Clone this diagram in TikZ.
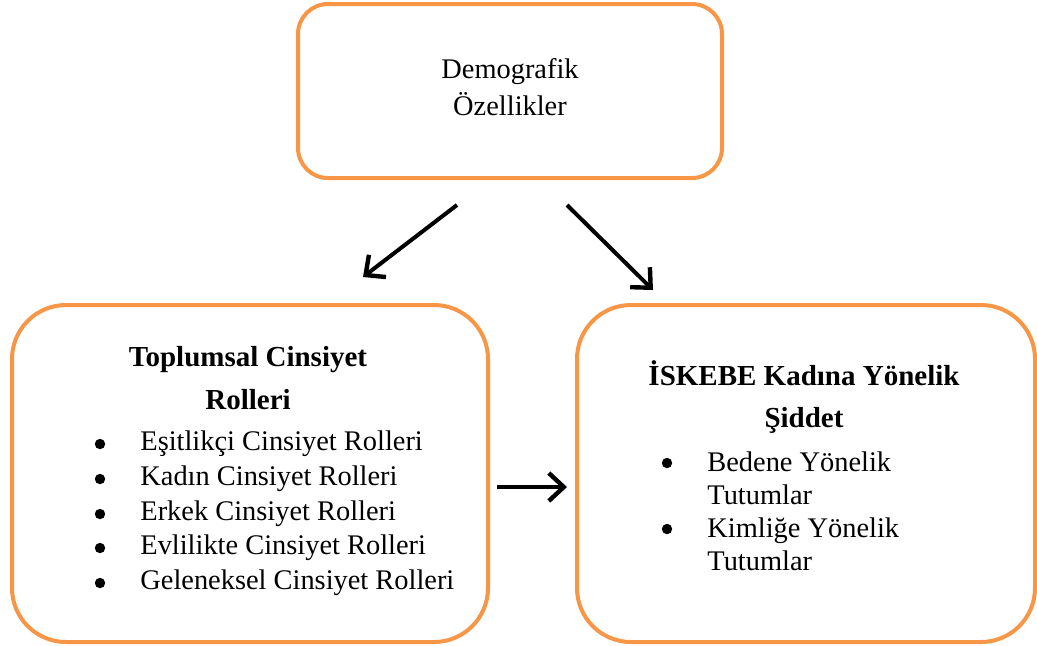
\documentclass[tikz,border=0pt]{standalone}
\usepackage{fontspec}
\setmainfont{Liberation Serif}
\usetikzlibrary{arrows.meta}
\definecolor{turuncu}{RGB}{247,150,70}
\tikzset{
  kutu/.style={draw=turuncu, line width=2pt, rounded corners=#1, inner sep=0pt},
  ok/.style={-{Straight Barb[length=7.5pt, width=14pt, line width=2.2pt]}, line width=2pt},
  yazi/.style={font=\fontsize{14.2}{18.5}\selectfont, inner sep=0pt},
  baslik/.style={font=\bfseries\fontsize{14.5}{21.5}\selectfont, inner sep=0pt, align=center},
  madde/.style={yazi, anchor=base west},
  nokta/.style={circle, fill=black, minimum size=5.2pt, inner sep=0pt}
}
\begin{document}
\begin{tikzpicture}[x=0.5pt, y=-0.5pt]
  \def\px{0.5pt}
  \useasboundingbox (0, 0) rectangle (1037, 645);
  % kutular
  \node [kutu=15pt, minimum width=424*\px, minimum height=174*\px] (demo) at (510, 91) {};
  \node [kutu=27pt, minimum width=476*\px, minimum height=337*\px] (roller) at (250, 473.5) {};
  \node [kutu=27pt, minimum width=458*\px, minimum height=337*\px] (siddet) at (806, 473.5) {};
  \node [yazi, align=center] (demoyazi) at (510, 87) {Demografik\\Özellikler};
  \node [baslik] (rolbaslik) at (248, 378) {Toplumsal Cinsiyet\\Rolleri};
  \node [baslik, font=\bfseries\fontsize{14.5}{21}\selectfont] (sidbaslik) at (804, 397) {İSKEBE Kadına Yönelik\\Şiddet};
  % maddeler
  \def\dy{7}
  \node [nokta] (n1) at (100, 444) {};
  \node [nokta] (n2) at (100, 479) {};
  \node [nokta] (n3) at (100, 514) {};
  \node [nokta] (n4) at (100, 548) {};
  \node [nokta] (n5) at (100, 583) {};
  \node [madde] (m1) at (140, 443+\dy) {Eşitlikçi Cinsiyet Rolleri};
  \node [madde] (m2) at (140, 478+\dy) {Kadın Cinsiyet Rolleri};
  \node [madde] (m3) at (140, 513+\dy) {Erkek Cinsiyet Rolleri};
  \node [madde] (m4) at (140, 547+\dy) {Evlilikte Cinsiyet Rolleri};
  \node [madde] (m5) at (140, 582+\dy) {Geleneksel Cinsiyet Rolleri};
  \node [nokta] (n6) at (667, 463) {};
  \node [nokta] (n7) at (667, 529) {};
  \node [yazi, anchor=west, align=left, font=\fontsize{14.2}{16.5}\selectfont] (m6) at (707, 478.5) {Bedene Yönelik\\Tutumlar};
  \node [yazi, anchor=west, align=left, font=\fontsize{14.2}{16.5}\selectfont] (m7) at (707, 544) {Kimliğe Yönelik\\Tutumlar};
  % oklar
  \coordinate (sol1) at (457, 205);
  \coordinate (sol2) at (363, 277);
  \coordinate (sag1) at (567, 205);
  \coordinate (sag2) at (653, 290);
  \coordinate (orta1) at (497, 487);
  \coordinate (orta2) at (567, 487);
  \draw [ok] (sol1) -- (sol2);
  \draw [ok] (sag1) -- (sag2);
  \draw [ok] (orta1) -- (orta2);
\end{tikzpicture}
\end{document}
